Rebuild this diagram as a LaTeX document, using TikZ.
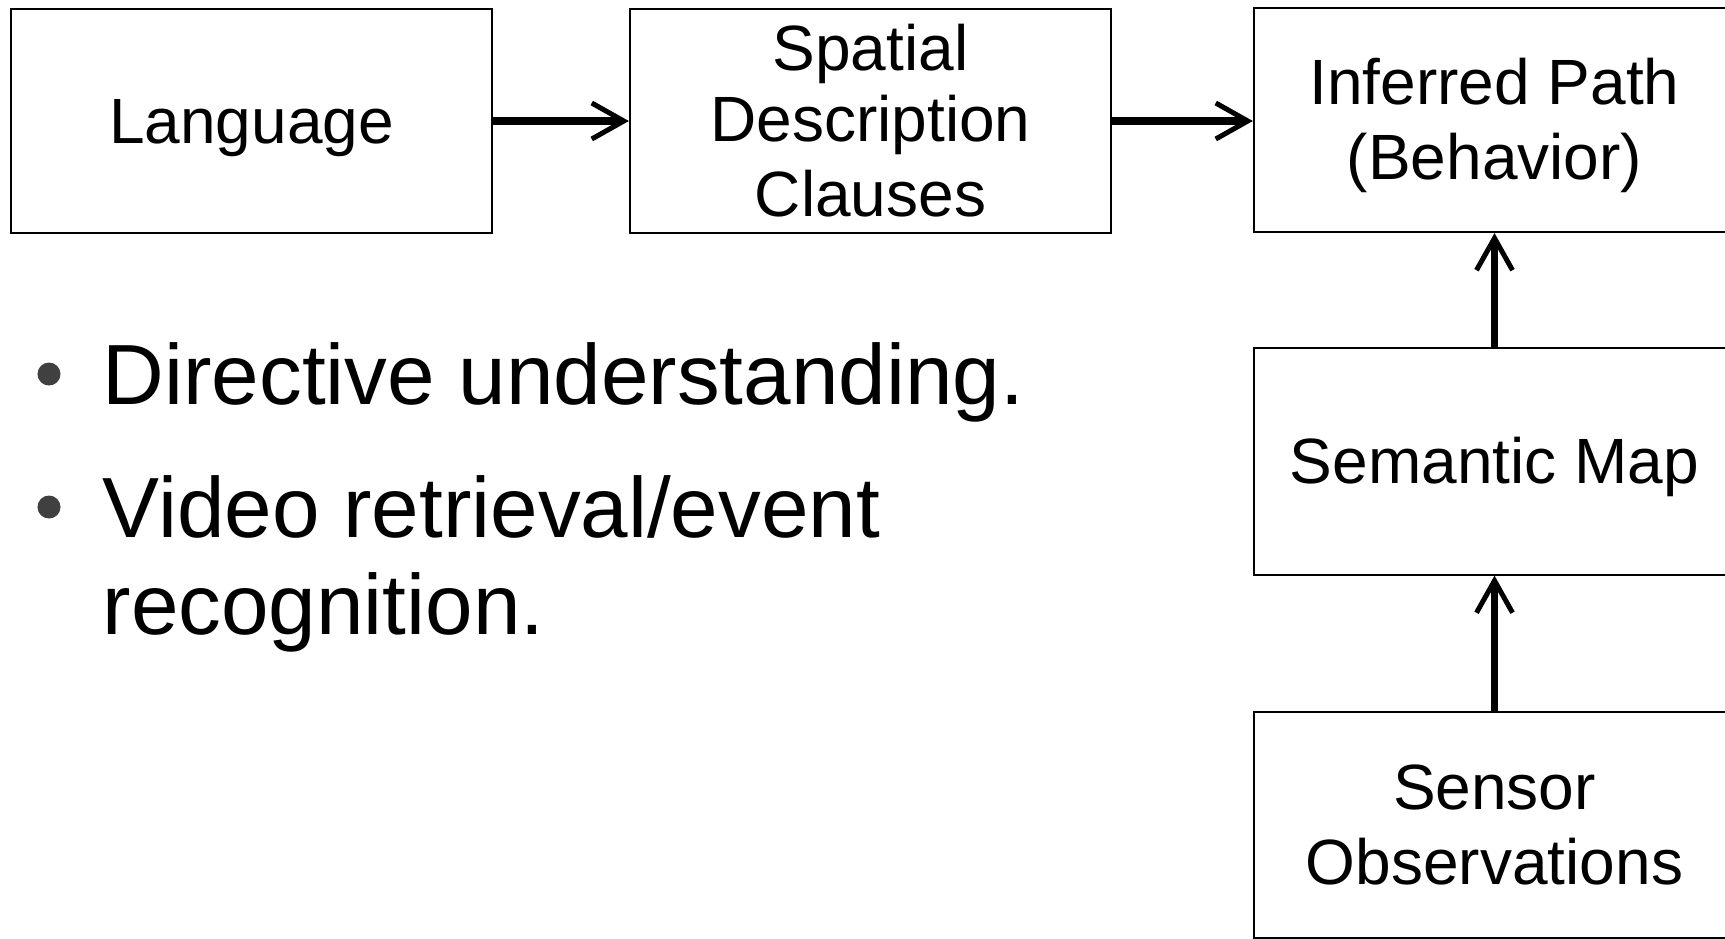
\documentclass[tikz,border=0pt]{standalone}
\usepackage{fontspec}
\setmainfont{Liberation Sans}
\usepackage{xcolor}
\usepackage{tikz}
\usetikzlibrary{arrows.meta,positioning}
\definecolor{dotgray}{RGB}{64,64,64}
% line box of the box font: ascent 0.905em, descent 0.212em
\newcommand{\bs}{\rule[-0.212em]{0pt}{1.117em}}

\begin{document}
\begin{tikzpicture}[x=0.01cm,y=-0.01cm,
  blk/.style={draw=black,line width=0.02cm,minimum width=4.81cm,minimum height=2.26cm,inner sep=0pt,align=center,
    font=\fontsize{18.2}{20.2}\selectfont},
  flow/.style={line width=0.075cm,-{Straight Barb[length=0.32cm,width=0.36cm,line width=0.05cm]}},
  item/.style={anchor=base west,inner sep=0pt,font=\fontsize{24.3}{27.6}\selectfont},
  dot/.style={circle,fill=dotgray,inner sep=0pt,minimum size=0.23cm}]
  \useasboundingbox (0,0) rectangle (1725,938);
  \clip (0,0) rectangle (1725,938);
  % top row
  \node[blk,minimum height=2.24cm] (lang) at (251.5,121) {\bs Language\bs};
  \node[blk,minimum height=2.24cm] (sdc) at (870.5,121) {\bs Spatial\\Description\\Clauses\bs};
  \node[blk,minimum height=2.24cm] (path) at (1494.5,120) {\bs Inferred Path\\(Behavior)\bs};
  % right column
  \node[blk] (smap) at (1494.5,461.5) {\bs Semantic Map\bs};
  \node[blk] (sens) at (1494.5,825) {\bs Sensor\\Observations\bs};
  \draw[flow] (lang) -- (sdc);
  \draw[flow] (sdc.east) -- (sdc.east -| path.west);
  \draw[flow] (smap) -- (path);
  \draw[flow] (sens) -- (smap);
  % bullet list
  \node[dot] (b1) at (49,374) {};
  \node[item] (d1) at (102,404) {Directive understanding.};
  \node[dot] (b2) at (49,507) {};
  \node[item] (v1) at (102,537) {Video retrieval/event};
  \node[item] (v2) at (102,634) {recognition.};
\end{tikzpicture}
\end{document}
